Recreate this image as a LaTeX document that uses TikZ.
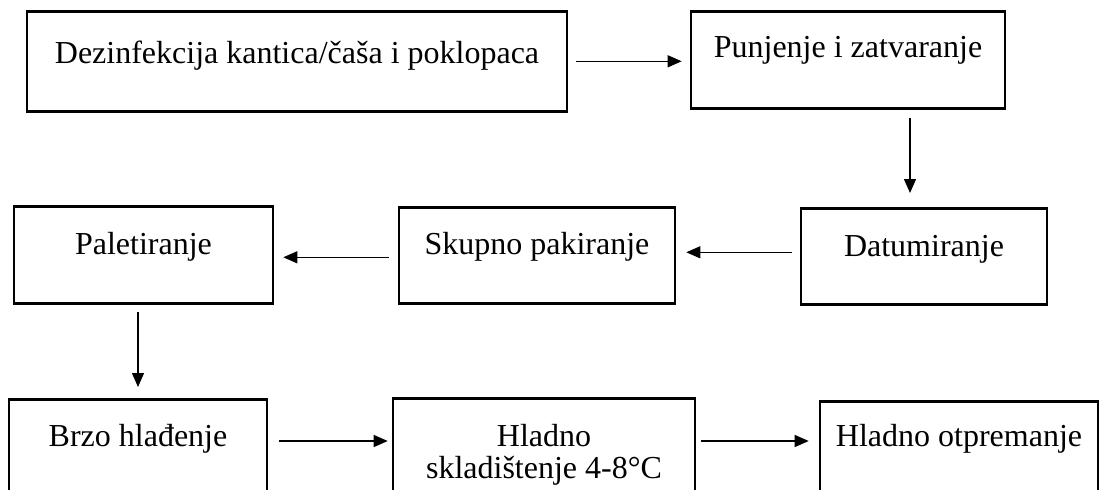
\documentclass[tikz,border=0pt]{standalone}
\usepackage{fontspec}
\setmainfont{Liberation Serif}
\usetikzlibrary{arrows.meta,calc}

\begin{document}
\begin{tikzpicture}[x=1pt, y=-1pt, >={Triangle[length=14pt,width=12pt]},
  every node/.style={font=\fontsize{32}{32}\selectfont},
  stepbox/.style n args={3}{draw, line width=2.6pt, inner sep=0pt, anchor=north,
    minimum width=#1, text height=#2, text depth=#3, align=center},
  flow/.style={->, line width=1.3pt}]
\useasboundingbox (0,0) rectangle (1109,490);
\clip (0,0) rectangle (1109,490);

% top row
\node[stepbox={540pt}{52pt}{48pt}] (dez) at (297,10) {Dezinfekcija kantica/čaša i poklopaca};
\node[stepbox={314pt}{46pt}{51pt}] (pun) at (848,10) {Punjenje i zatvaranje};

% middle row
\node[stepbox={246pt}{48pt}{48pt}] (dat) at (924,207) {Datumiranje};
\node[stepbox={276pt}{47pt}{49pt}] (skup) at (537,206) {Skupno pakiranje};
\node[stepbox={259pt}{48pt}{49pt}] (pal) at (143.5,205) {Paletiranje};

% bottom row (cut off by the page)
\node[stepbox={258pt}{47pt}{60pt}] (brzo) at (138,398) {Brzo hlađenje};
\node[stepbox={302pt}{80pt}{30pt}] (hlad) at (544,397) {Hladno\\skladištenje 4-8°C};
\node[stepbox={278pt}{45pt}{60pt}] (otp) at (959,400) {Hladno otpremanje};

% connectors
\draw[flow, shorten <=8pt, shorten >=8pt] (dez.east) -- (dez.east -| pun.west);
\draw[flow, shorten <=8pt, shorten >=14pt] ([xshift=62pt]pun.south) -- ([xshift=62pt]pun.south |- dat.north);
\draw[flow, shorten <=8pt, shorten >=10pt] ([yshift=4pt]dat.west) -- ([yshift=4pt]dat.west -| skup.east);
\draw[flow, shorten <=9pt, shorten >=9pt] ([yshift=-2pt]skup.west) -- ([yshift=-2pt]skup.west -| pal.east);
\draw[flow, shorten <=7pt, shorten >=11pt] ([xshift=-5.5pt]pal.south) -- ([xshift=-5.5pt]pal.south |- brzo.north);
\draw[flow, shorten <=11pt, shorten >=4pt] ([yshift=-43pt]brzo.north east) -- ([yshift=-43pt]brzo.north east -| hlad.west);
\draw[flow, shorten <=5pt, shorten >=10pt] ([yshift=-43pt]brzo.north east -| hlad.east) -- ([yshift=-43pt]brzo.north east -| otp.west);
\end{tikzpicture}
\end{document}
